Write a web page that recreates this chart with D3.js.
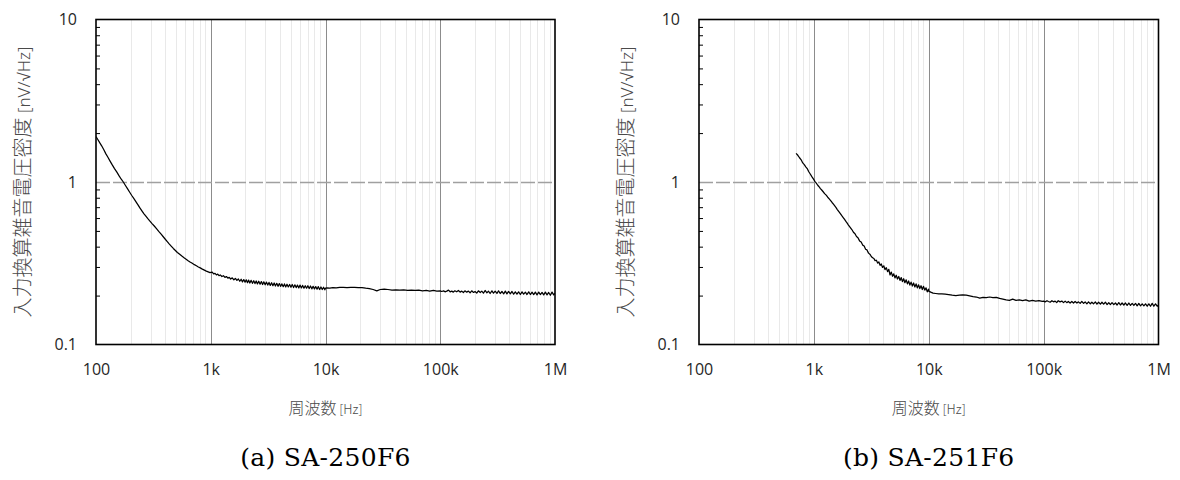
<!DOCTYPE html>
<html>
<head>
<meta charset="utf-8">
<script src="https://cdn.jsdelivr.net/npm/d3@7"></script>
<style>
  html, body { margin: 0; padding: 0; background: #fff; }
  svg { display: block; }
</style>
</head>
<body>
<svg id="chart" width="1180" height="480"></svg>
<script>
// ---------- DATA ----------
const xTicks = [100, 1e3, 1e4, 1e5, 1e6];
const xTickLabels = ["100", "1k", "10k", "100k", "1M"];
const yTicks = [0.1, 1, 10];
const yTickLabels = ["0.1", "1", "10"];
const xMinor = [200,300,400,500,600,700,800,900,2e3,3e3,4e3,5e3,6e3,7e3,8e3,9e3,2e4,3e4,4e4,5e4,6e4,7e4,8e4,9e4,2e5,3e5,4e5,5e5,6e5,7e5,8e5,9e5];
const yMinor = [0.2,0.3,0.4,0.5,0.6,0.7,0.8,0.9,2,3,4,5,6,7,8,9];
const yTitleJa = "入力換算雑音電圧密度";
const yTitleUnit = " [nV/√Hz]";
const xTitleJa = "周波数";
const xTitleUnit = " [Hz]";
const captions = ["(a) SA-250F6", "(b) SA-251F6"];

// SA-250F6 : [frequency Hz, noise density nV/√Hz]
const sa250 = [
 [100,1.90],[104,1.82],[108,1.74],[112,1.67],[117,1.58],[122,1.49],[127,1.42],[133,1.34],[139,1.27],[145,1.21],
 [152,1.15],[159,1.09],[166,1.04],[173,1.00],[180,0.955],[188,0.91],[196,0.868],[205,0.826],[214,0.79],[224,0.752],
 [233,0.72],[242,0.69],[252,0.662],[262,0.637],[272,0.616],[283,0.595],[295,0.575],[308,0.555],[322,0.536],[338,0.515],
 [352,0.497],[368,0.479],[384,0.462],[400,0.446],[418,0.430],[436,0.415],[454,0.402],[472,0.390],[492,0.379],[512,0.368],
 [536,0.359],[560,0.350],[585,0.342],[610,0.335],[635,0.328],[660,0.322],[690,0.316],[720,0.310],[750,0.305],[780,0.300],
 [810,0.296],[845,0.291],[880,0.287],[915,0.283],[950,0.280],[985,0.277],
 [1030,.279],[1060,.272],[1090,.274],[1120,.268],[1150,.271],[1180,.265],[1210,.268],[1250,.262],[1290,.265],[1330,.259],
 [1370,.262],[1410,.256],[1450,.259],[1490,.253],[1540,.257],[1590,.250],[1640,.255],[1690,.248],[1740,.253],[1790,.245],
 [1840,.252],[1890,.243],[1940,.251],[1990,.242],[2040,.250],[2090,.240],[2140,.249],[2190,.239],[2250,.248],[2310,.238],
 [2370,.247],[2430,.237],[2490,.246],[2550,.236],[2620,.245],[2690,.235],[2760,.244],[2830,.234],[2900,.243],[2980,.233],
 [3060,.242],[3140,.232],[3220,.241],[3300,.231],[3390,.240],[3480,.230],[3570,.239],[3660,.229],[3760,.238],[3860,.228],
 [3960,.237],[4060,.228],[4170,.236],[4280,.227],[4390,.236],[4500,.226],[4620,.235],[4740,.226],[4870,.234],[5000,.225],
 [5130,.234],[5270,.224],[5410,.233],[5550,.224],[5700,.232],[5850,.223],[6000,.232],[6160,.223],[6320,.231],[6490,.222],
 [6660,.230],[6840,.222],[7020,.230],[7210,.221],[7400,.229],[7600,.220],[7800,.228],[8010,.220],[8220,.227],[8440,.219],
 [8660,.227],[8890,.218],[9130,.226],[9370,.218],[9620,.225],[9870,.217],[10000,.222],
 [10300,.223],[10900,.222],[11600,.224],[12400,.223],[13300,.225],[14300,.225],[15400,.224],[16600,.225],[17900,.225],[19300,.224],
 [20800,.224],[22400,.222],[24100,.221],[26000,.218],[28000,.214],[30000,.218],[32500,.219],[35000,.218],[38000,.216],[41000,.217],
 [44500,.216],[48000,.217],[52000,.215],[56000,.216],[60500,.215],[65000,.216],[70000,.214],[75500,.215],[81000,.213],[87000,.215],
 [93500,.213],[100000,.214],
 [103e3,.212],[107e3,.214],[110e3,.211],[114e3,.213],[118e3,.216],[122e3,.211],[126e3,.213],[130e3,.210],[134e3,.214],[139e3,.211],
 [144e3,.215],[149e3,.210],[154e3,.213],[159e3,.209],[164e3,.214],[170e3,.210],[176e3,.213],[182e3,.208],[188e3,.214],[195e3,.209],
 [201e3,.212],[208e3,.207],[215e3,.214],[223e3,.209],[230e3,.213],[238e3,.207],[246e3,.215],[255e3,.208],[263e3,.213],[272e3,.206],
 [282e3,.214],[291e3,.207],[301e3,.213],[312e3,.206],[322e3,.214],[333e3,.206],[345e3,.212],[357e3,.205],[369e3,.213],[381e3,.205],
 [394e3,.212],[408e3,.205],[422e3,.212],[436e3,.204],[451e3,.211],[466e3,.204],[482e3,.211],[499e3,.203],[516e3,.211],[533e3,.204],
 [552e3,.210],[570e3,.203],[590e3,.211],[610e3,.203],[631e3,.210],[652e3,.203],[674e3,.210],[697e3,.202],[721e3,.210],[746e3,.203],
 [771e3,.209],[797e3,.202],[824e3,.210],[852e3,.202],[881e3,.209],[911e3,.201],[942e3,.210],[974e3,.202],[1000e3,.207]
];

// SA-251F6 : [frequency Hz, noise density nV/√Hz]
const sa251 = [
 [700,1.50],[725,1.46],[750,1.41],[775,1.37],[800,1.31],[825,1.28],[850,1.24],[875,1.21],[900,1.16],[930,1.12],
 [960,1.08],[990,1.045],[1020,1.01],[1050,0.985],[1080,0.955],[1110,0.935],[1140,0.91],[1170,0.893],[1200,0.874],[1240,0.848],
 [1280,0.83],[1320,0.806],[1360,0.787],[1400,0.768],[1440,0.748],[1480,0.73],[1520,0.712],[1560,0.695],[1600,0.677],[1650,0.657],
 [1700,0.638],[1750,0.62],[1800,0.604],[1850,0.588],[1900,0.572],[1950,0.558],[2000,0.543],[2070,0.526],[2140,0.510],[2210,0.491],
 [2280,0.480],[2350,0.462],[2420,0.454],[2500,0.434],[2580,0.427],[2660,0.409],[2740,0.404],[2820,0.386],[2900,0.382],[2990,0.365],
 [3090,0.358],
 [3170,.347],[3250,.342],[3330,.338],[3410,.328],[3500,.330],[3590,.317],[3680,.322],[3770,.307],[3860,.313],[3960,.298],
 [4060,.305],[4160,.289],[4270,.297],[4380,.281],[4490,.290],[4600,.268],[4720,.279],[4840,.263],[4960,.272],[5080,.257],
 [5210,.267],[5340,.253],[5480,.262],[5620,.248],[5760,.258],[5900,.244],[6050,.254],[6200,.240],[6360,.250],[6520,.236],
 [6680,.246],[6850,.232],[7020,.242],[7200,.229],[7380,.239],[7570,.226],[7760,.236],[7950,.223],[8150,.233],[8360,.221],
 [8570,.230],[8790,.218],[9010,.228],[9240,.216],[9470,.223],[9710,.211],[9950,.219],[10000,.213],
 [10400,.210],[10900,.207],[11500,.206],[12200,.205],[13000,.205],[13900,.204],[14900,.203],[16000,.201],[17200,.200],[18500,.201],
 [19800,.202],[21200,.201],[22700,.199],[24300,.197],[26000,.196],[27800,.193],[29700,.195],[31700,.194],[33900,.196],[36200,.194],
 [38700,.195],[41400,.192],[44200,.190],[47200,.188],[50400,.187],[53800,.190],[57500,.187],[61400,.188],[65600,.186],[70000,.188],
 [74800,.185],[79900,.187],[85300,.185],[91100,.186],[97300,.184],[100000,.185],
 [103e3,.183],[107e3,.186],[110e3,.184],[114e3,.182],[118e3,.186],[122e3,.183],[126e3,.185],[130e3,.181],[134e3,.186],[139e3,.183],
 [144e3,.185],[149e3,.181],[154e3,.185],[159e3,.181],[164e3,.184],[170e3,.180],[176e3,.184],[182e3,.180],[188e3,.184],[195e3,.180],
 [201e3,.183],[208e3,.179],[215e3,.184],[223e3,.179],[230e3,.183],[238e3,.178],[246e3,.183],[255e3,.178],[263e3,.182],[272e3,.178],
 [282e3,.183],[291e3,.177],[301e3,.182],[312e3,.177],[322e3,.182],[333e3,.177],[345e3,.182],[357e3,.176],[369e3,.181],[381e3,.176],
 [394e3,.181],[408e3,.176],[422e3,.180],[436e3,.175],[451e3,.181],[466e3,.175],[482e3,.180],[499e3,.175],[516e3,.180],[533e3,.174],
 [552e3,.180],[570e3,.174],[590e3,.179],[610e3,.174],[631e3,.179],[652e3,.173],[674e3,.179],[697e3,.173],[721e3,.178],[746e3,.173],
 [771e3,.178],[797e3,.172],[824e3,.178],[852e3,.172],[881e3,.179],[911e3,.172],[942e3,.178],[974e3,.172],[1000e3,.175]
];

// ---------- DRAW ----------
const svg = d3.select("#chart");
const panels = [
  { data: sa250, caption: captions[0], x0: 96, x1: 555 },
  { data: sa251, caption: captions[1], x0: 699, x1: 1158.5 }
];
const Y0 = 19.5, Y1 = 344.5;

panels.forEach((p, i) => {
  const x = d3.scaleLog().domain([100, 1e6]).range([p.x0, p.x1]);
  const y = d3.scaleLog().domain([0.1, 10]).range([Y1, Y0]);
  const g = svg.append("g");
  const cx = (p.x0 + p.x1) / 2;

  // minor vertical grid
  g.append("g").selectAll("line").data(xMinor).join("line")
    .attr("x1", d => Math.round(x(d)) + 0.5).attr("x2", d => Math.round(x(d)) + 0.5)
    .attr("y1", Y0).attr("y2", Y1)
    .attr("stroke", "#e9e9e9").attr("stroke-width", 1);

  // major vertical grid
  g.append("g").selectAll("line").data(xTicks.slice(1, -1)).join("line")
    .attr("x1", d => Math.round(x(d)) + 0.5).attr("x2", d => Math.round(x(d)) + 0.5)
    .attr("y1", Y0).attr("y2", Y1)
    .attr("stroke", "#8c8c8c").attr("stroke-width", 1);

  // horizontal major gridline at 1 (dashed)
  g.append("g").selectAll("line").data(yTicks.slice(1, -1)).join("line")
    .attr("x1", p.x0).attr("x2", p.x1)
    .attr("y1", d => Math.round(y(d)) + 0.5).attr("y2", d => Math.round(y(d)) + 0.5)
    .attr("stroke", "#a0a0a0").attr("stroke-width", 1.3)
    .attr("stroke-dasharray", "14,3");

  // curve
  const clipId = "clip" + i;
  svg.append("clipPath").attr("id", clipId).append("rect")
    .attr("x", p.x0).attr("y", Y0).attr("width", p.x1 - p.x0).attr("height", Y1 - Y0);
  g.append("path").datum(p.data)
    .attr("clip-path", `url(#${clipId})`)
    .attr("fill", "none").attr("stroke", "#000").attr("stroke-width", 1.25)
    .attr("stroke-linejoin", "round")
    .attr("d", d3.line().x(d => x(d[0])).y(d => y(d[1])));

  // minor y ticks (pointing inward)
  const minorAxis = d3.axisRight(y).tickValues(yMinor).tickSize(4).tickFormat("");
  const ma = g.append("g").attr("transform", `translate(${p.x0},0)`).call(minorAxis);
  ma.select(".domain").remove();
  ma.selectAll("line").attr("stroke", "#000").attr("stroke-width", 1);

  // frame
  g.append("rect").attr("x", p.x0).attr("y", Y0)
    .attr("width", p.x1 - p.x0).attr("height", Y1 - Y0)
    .attr("fill", "none").attr("stroke", "#000").attr("stroke-width", 1.6);

  // y tick labels
  const yAxis = d3.axisLeft(y).tickValues(yTicks).tickSize(0).tickPadding(19)
    .tickFormat((d, k) => yTickLabels[k]);
  const ya = g.append("g").attr("transform", `translate(${p.x0},0)`).call(yAxis);
  ya.select(".domain").remove();
  ya.selectAll("text").attr("font-family", "'Open Sans', sans-serif")
    .attr("font-size", 16).attr("fill", "#262626");

  // x tick labels
  const xAxis = d3.axisBottom(x).tickValues(xTicks).tickSize(0).tickPadding(19)
    .tickFormat((d, k) => xTickLabels[k]);
  const xa = g.append("g").attr("transform", `translate(0,${Y1})`).call(xAxis);
  xa.select(".domain").remove();
  xa.selectAll("text").attr("font-family", "'Open Sans', sans-serif")
    .attr("font-size", 16).attr("fill", "#262626");

  // y title
  const yt = g.append("text")
    .attr("transform", `translate(${p.x0 - 66},${(Y0 + Y1) / 2}) rotate(-90)`)
    .attr("text-anchor", "middle")
    .attr("font-family", "'Noto Sans CJK JP', sans-serif")
    .attr("font-weight", 300)
    .attr("fill", "#4a4a4a");
  yt.append("tspan").attr("font-size", 20).text(yTitleJa);
  yt.append("tspan").attr("font-size", 17).attr("font-family", "'Noto Sans', sans-serif").text(yTitleUnit);

  // x title
  const xt = g.append("text")
    .attr("x", cx).attr("y", 414)
    .attr("text-anchor", "middle")
    .attr("font-family", "'Noto Sans CJK JP', sans-serif")
    .attr("font-weight", 300)
    .attr("fill", "#4a4a4a");
  xt.append("tspan").attr("font-size", 16).text(xTitleJa);
  xt.append("tspan").attr("font-size", 13).text(xTitleUnit);

  // caption
  g.append("text")
    .attr("x", cx).attr("y", 466)
    .attr("text-anchor", "middle")
    .attr("font-family", "'DejaVu Serif', serif")
    .attr("font-size", 25)
    .attr("letter-spacing", 0.3)
    .attr("fill", "#000")
    .text(p.caption);
});
</script>
</body>
</html>
